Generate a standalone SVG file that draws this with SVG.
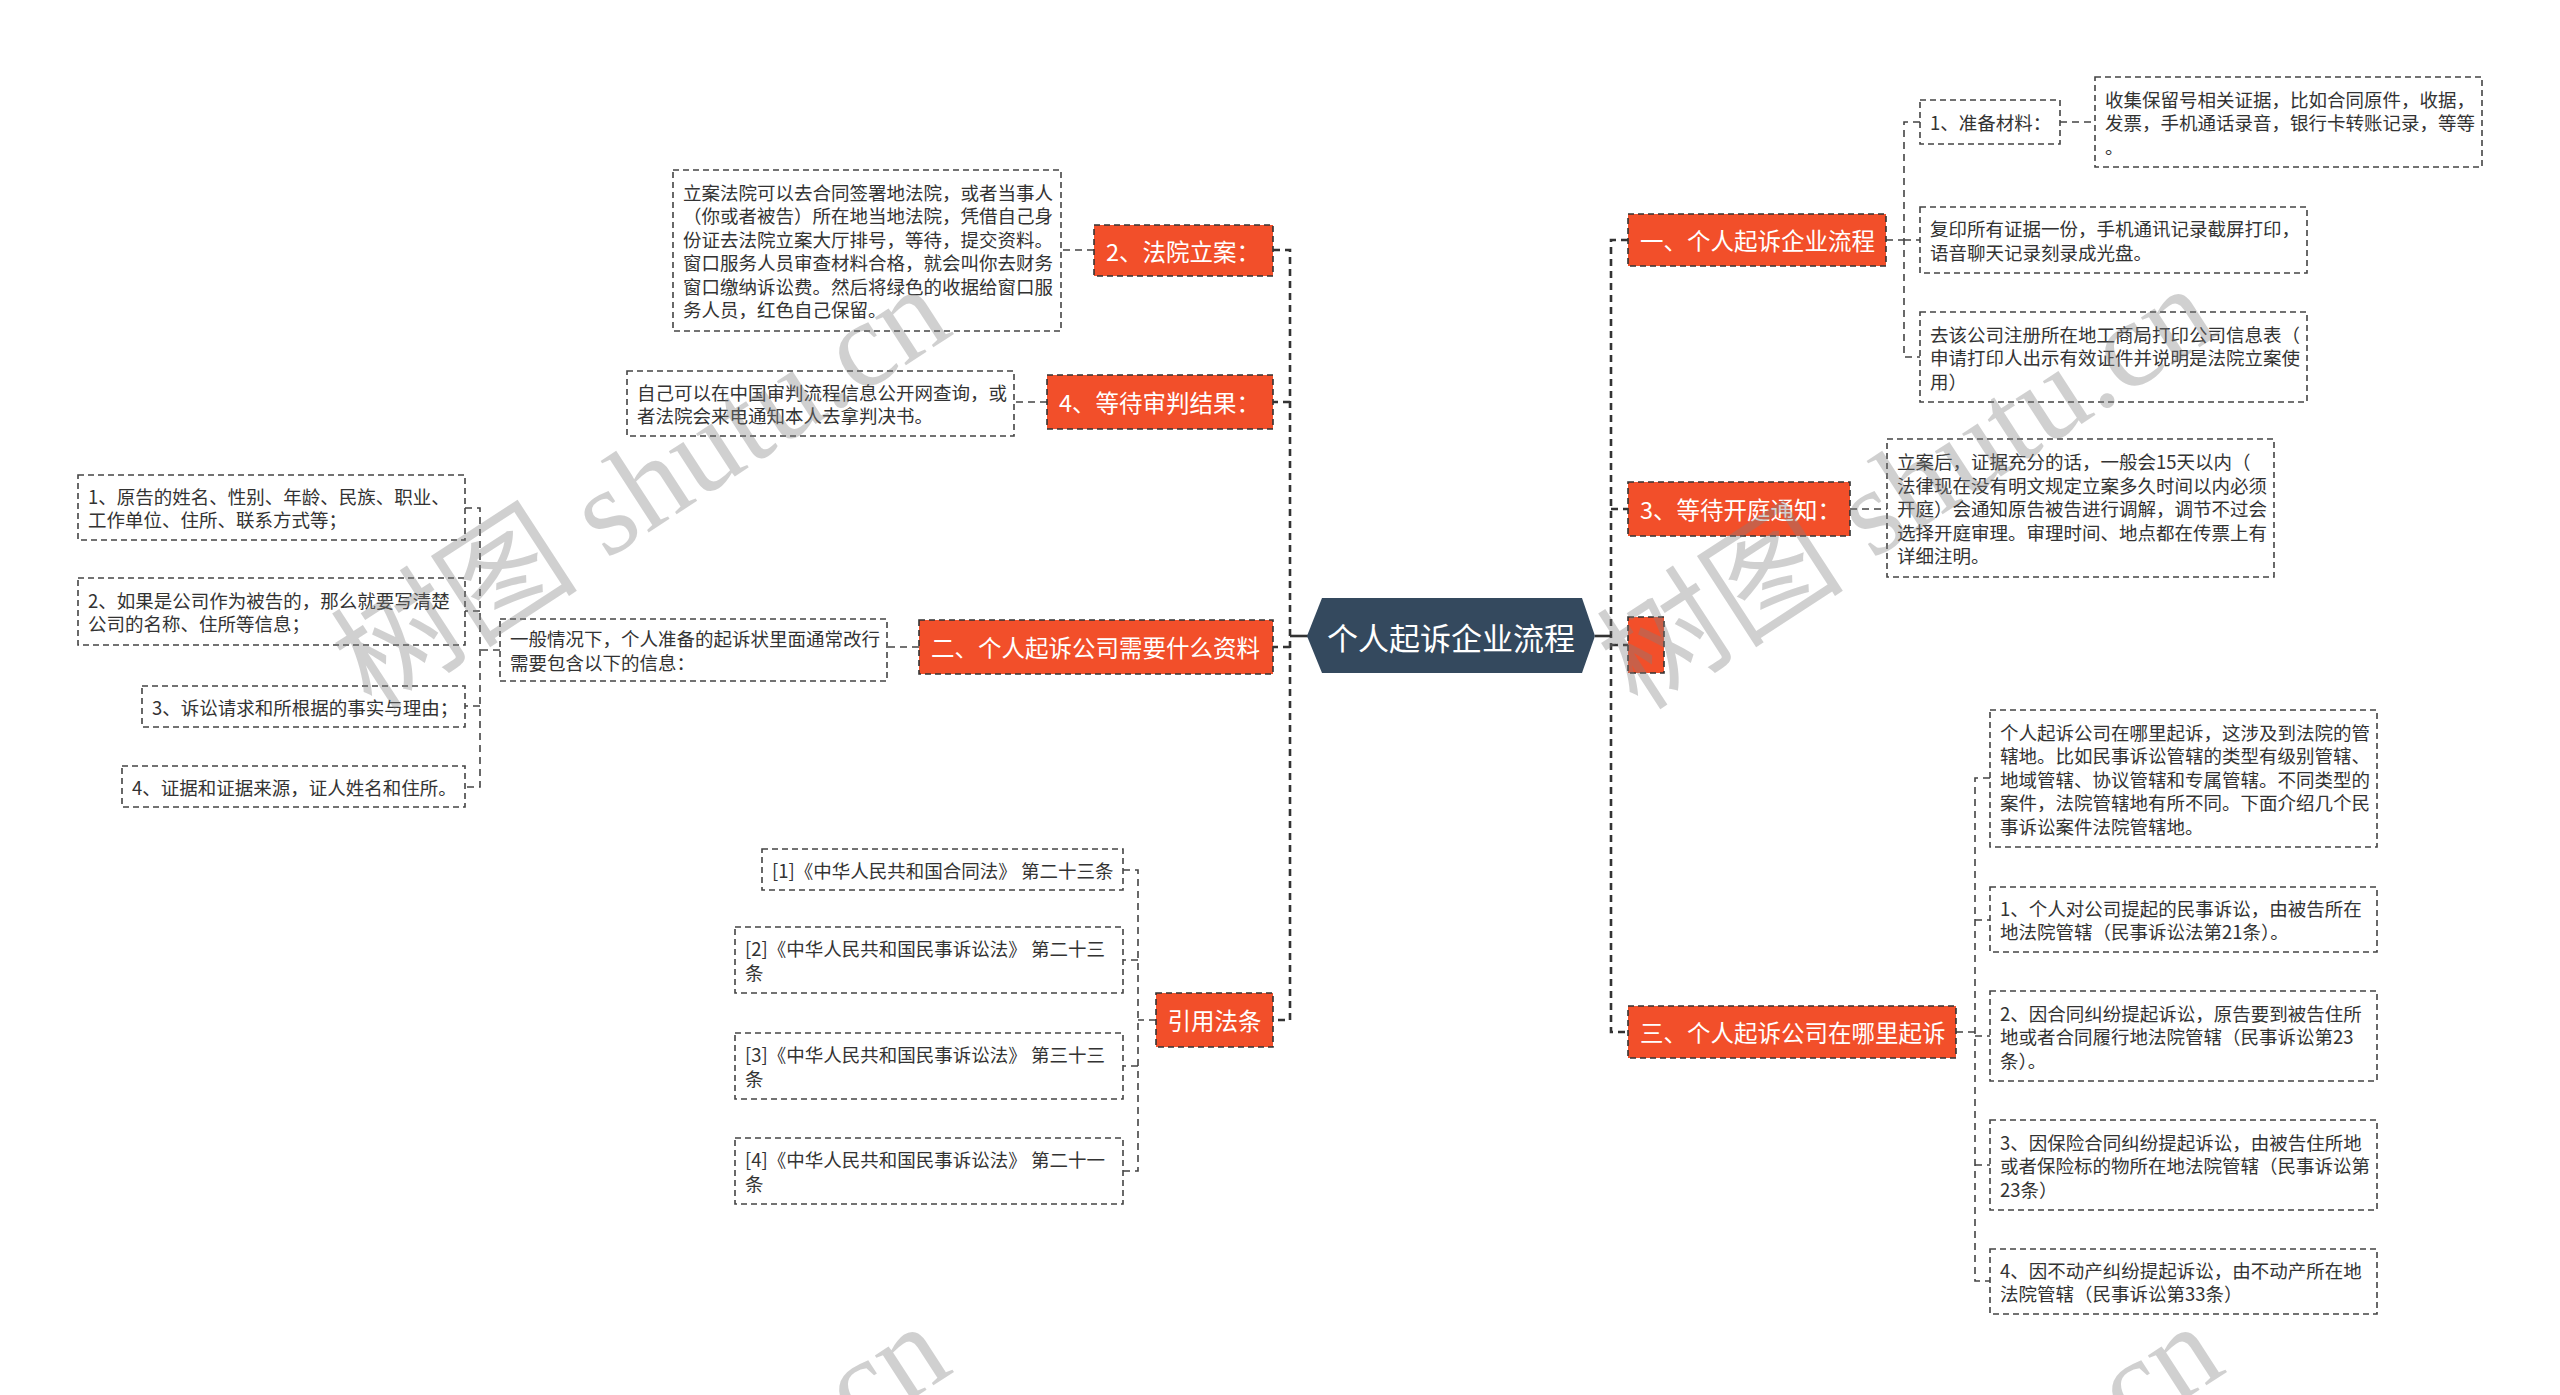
<svg xmlns="http://www.w3.org/2000/svg" width="2560" height="1395" viewBox="0 0 2560 1395">
<style>
.box{fill:#fff;stroke:#444;stroke-width:1.6;stroke-dasharray:6 4}
.red{fill:#F24F2A;stroke:#333;stroke-width:1.6;stroke-dasharray:6 4}
.t{font-family:"Noto Sans CJK SC","Microsoft YaHei",sans-serif;font-size:18.5px;fill:#333;dominant-baseline:central}
.rt{font-family:"Noto Sans CJK SC","Microsoft YaHei",sans-serif;font-size:23.5px;fill:#fff;dominant-baseline:central}
.trunk{fill:none;stroke:#333;stroke-width:2.6;stroke-dasharray:7 5}
.br{fill:none;stroke:#444;stroke-width:1.6;stroke-dasharray:7 5}
.solid{fill:none;stroke:#333;stroke-width:2.6}
.wm{font-family:"Liberation Serif","Noto Sans CJK SC",serif;font-size:124px;fill:#808080;opacity:0.36}
</style>
<rect width="2560" height="1395" fill="#fff"/>
<g id="connectors">
<path class="solid" d="M1309,636 H1290"/>
<path class="solid" d="M1595,636 H1611"/>
<path class="trunk" d="M1273,250 H1290 V1020 H1273 M1290,402 H1273 M1290,647 H1273"/>
<path class="trunk" d="M1628,240 H1611 V1032 H1628 M1611,509 H1628 M1611,645 H1628"/>
<path class="br" d="M1094,250 H1061"/>
<path class="br" d="M1047,402 H1014"/>
<path class="br" d="M919,647 H887"/>
<path class="br" d="M500,650 H480 M465,508 H480 V787 H465 M480,611 H465 M480,706 H465"/>
<path class="br" d="M1156,1020 H1138 M1123,870 H1138 V1171 H1123 M1138,960 H1123 M1138,1066 H1123"/>
<path class="br" d="M1886,240 H1904 M1920,122 H1904 V357 H1920 M1904,240 H1920"/>
<path class="br" d="M2060,122 H2095"/>
<path class="br" d="M1850,509 H1887"/>
<path class="br" d="M1956,1032 H1975 M1990,778 H1975 V1281 H1990 M1975,920 H1990 M1975,1036 H1990 M1975,1165 H1990"/>
</g>
<g id="root">
<polygon points="1307,636 1322,598 1582,598 1595,636 1582,673 1322,673" fill="#34495E"/>
<text x="1451" y="636" text-anchor="middle" font-family="Noto Sans CJK SC, sans-serif" font-size="31" fill="#fff" dominant-baseline="central">个人起诉企业流程</text>
</g>
<g id="n-fayuanlian">
<rect class="red" x="1094" y="225" width="179" height="51"/>
<text class="rt" x="1106" y="250.5">2、法院立案：</text>
</g>
<g id="n-fayuanlian-txt">
<rect class="box" x="673" y="170" width="388" height="161"/>
<text class="t" x="683" y="191.75"><tspan x="683">立案法院可以去合同签署地法院，或者当事人</tspan><tspan x="683" dy="23.5">（你或者被告）所在地当地法院，凭借自己身</tspan><tspan x="683" dy="23.5">份证去法院立案大厅排号，等待，提交资料。</tspan><tspan x="683" dy="23.5">窗口服务人员审查材料合格，就会叫你去财务</tspan><tspan x="683" dy="23.5">窗口缴纳诉讼费。然后将绿色的收据给窗口服</tspan><tspan x="683" dy="23.5">务人员，红色自己保留。</tspan></text>
</g>
<g id="n-shenpan">
<rect class="red" x="1047" y="375" width="226" height="54"/>
<text class="rt" x="1059" y="402">4、等待审判结果：</text>
</g>
<g id="n-shenpan-txt">
<rect class="box" x="627" y="371" width="387" height="65"/>
<text class="t" x="637" y="391.75"><tspan x="637">自己可以在中国审判流程信息公开网查询，或</tspan><tspan x="637" dy="23.5">者法院会来电通知本人去拿判决书。</tspan></text>
</g>
<g id="n-ziliao">
<rect class="red" x="919" y="620" width="354" height="54"/>
<text class="rt" x="931" y="647">二、个人起诉公司需要什么资料</text>
</g>
<g id="n-ziliao-txt">
<rect class="box" x="500" y="619" width="387" height="62"/>
<text class="t" x="510" y="638.25"><tspan x="510">一般情况下，个人准备的起诉状里面通常改行</tspan><tspan x="510" dy="23.5">需要包含以下的信息：</tspan></text>
</g>
<g id="n-z1">
<rect class="box" x="78" y="475" width="387" height="65"/>
<text class="t" x="88" y="495.75"><tspan x="88">1、原告的姓名、性别、年龄、民族、职业、</tspan><tspan x="88" dy="23.5">工作单位、住所、联系方式等；</tspan></text>
</g>
<g id="n-z2">
<rect class="box" x="78" y="578" width="387" height="67"/>
<text class="t" x="88" y="599.75"><tspan x="88">2、如果是公司作为被告的，那么就要写清楚</tspan><tspan x="88" dy="23.5">公司的名称、住所等信息；</tspan></text>
</g>
<g id="n-z3">
<rect class="box" x="142" y="686" width="323" height="41"/>
<text class="t" x="152" y="706.5">3、诉讼请求和所根据的事实与理由；</text>
</g>
<g id="n-z4">
<rect class="box" x="122" y="766" width="343" height="41"/>
<text class="t" x="132" y="786.5">4、证据和证据来源，证人姓名和住所。</text>
</g>
<g id="n-fatiao">
<rect class="red" x="1156" y="993" width="117" height="54"/>
<text class="rt" x="1214.5" y="1020" text-anchor="middle">引用法条</text>
</g>
<g id="n-f1">
<rect class="box" x="762" y="849" width="361" height="41"/>
<text class="t" x="772" y="869.5">[1]《中华人民共和国合同法》 第二十三条</text>
</g>
<g id="n-f2">
<rect class="box" x="735" y="927" width="388" height="66"/>
<text class="t" x="745" y="948.25"><tspan x="745">[2]《中华人民共和国民事诉讼法》 第二十三</tspan><tspan x="745" dy="23.5">条</tspan></text>
</g>
<g id="n-f3">
<rect class="box" x="735" y="1033" width="388" height="66"/>
<text class="t" x="745" y="1054.25"><tspan x="745">[3]《中华人民共和国民事诉讼法》 第三十三</tspan><tspan x="745" dy="23.5">条</tspan></text>
</g>
<g id="n-f4">
<rect class="box" x="735" y="1138" width="388" height="66"/>
<text class="t" x="745" y="1159.25"><tspan x="745">[4]《中华人民共和国民事诉讼法》 第二十一</tspan><tspan x="745" dy="23.5">条</tspan></text>
</g>
<g id="n-liucheng">
<rect class="red" x="1628" y="214" width="258" height="52"/>
<text class="rt" x="1640" y="240">一、个人起诉企业流程</text>
</g>
<g id="n-l1">
<rect class="box" x="1920" y="100" width="140" height="44"/>
<text class="t" x="1930" y="122">1、准备材料：</text>
</g>
<g id="n-l1c">
<rect class="box" x="2095" y="77" width="387" height="90"/>
<text class="t" x="2105" y="98.5"><tspan x="2105">收集保留号相关证据，比如合同原件，收据，</tspan><tspan x="2105" dy="23.5">发票，手机通话录音，银行卡转账记录，等等</tspan><tspan x="2105" dy="23.5">。</tspan></text>
</g>
<g id="n-l2">
<rect class="box" x="1920" y="207" width="387" height="66"/>
<text class="t" x="1930" y="228.25"><tspan x="1930">复印所有证据一份，手机通讯记录截屏打印，</tspan><tspan x="1930" dy="23.5">语音聊天记录刻录成光盘。</tspan></text>
</g>
<g id="n-l3">
<rect class="box" x="1920" y="312" width="387" height="90"/>
<text class="t" x="1930" y="333.5"><tspan x="1930">去该公司注册所在地工商局打印公司信息表（</tspan><tspan x="1930" dy="23.5">申请打印人出示有效证件并说明是法院立案使</tspan><tspan x="1930" dy="23.5">用）</tspan></text>
</g>
<g id="n-kaiting">
<rect class="red" x="1628" y="482" width="222" height="54"/>
<text class="rt" x="1640" y="509">3、等待开庭通知：</text>
</g>
<g id="n-kaiting-txt">
<rect class="box" x="1887" y="439" width="387" height="138"/>
<text class="t" x="1897" y="461"><tspan x="1897">立案后，证据充分的话，一般会15天以内（</tspan><tspan x="1897" dy="23.5">法律现在没有明文规定立案多久时间以内必须</tspan><tspan x="1897" dy="23.5">开庭）会通知原告被告进行调解，调节不过会</tspan><tspan x="1897" dy="23.5">选择开庭审理。审理时间、地点都在传票上有</tspan><tspan x="1897" dy="23.5">详细注明。</tspan></text>
</g>
<g id="n-empty">
<rect class="red" x="1628" y="617" width="36" height="56"/>
</g>
<g id="n-nali">
<rect class="red" x="1628" y="1006" width="328" height="52"/>
<text class="rt" x="1640" y="1032">三、个人起诉公司在哪里起诉</text>
</g>
<g id="n-h1">
<rect class="box" x="1990" y="710" width="387" height="137"/>
<text class="t" x="2000" y="731.5"><tspan x="2000">个人起诉公司在哪里起诉，这涉及到法院的管</tspan><tspan x="2000" dy="23.5">辖地。比如民事诉讼管辖的类型有级别管辖、</tspan><tspan x="2000" dy="23.5">地域管辖、协议管辖和专属管辖。不同类型的</tspan><tspan x="2000" dy="23.5">案件，法院管辖地有所不同。下面介绍几个民</tspan><tspan x="2000" dy="23.5">事诉讼案件法院管辖地。</tspan></text>
</g>
<g id="n-h2">
<rect class="box" x="1990" y="887" width="387" height="65"/>
<text class="t" x="2000" y="907.75"><tspan x="2000">1、个人对公司提起的民事诉讼，由被告所在</tspan><tspan x="2000" dy="23.5">地法院管辖（民事诉讼法第21条）。</tspan></text>
</g>
<g id="n-h3">
<rect class="box" x="1990" y="991" width="387" height="90"/>
<text class="t" x="2000" y="1012.5"><tspan x="2000">2、因合同纠纷提起诉讼，原告要到被告住所</tspan><tspan x="2000" dy="23.5">地或者合同履行地法院管辖（民事诉讼第23</tspan><tspan x="2000" dy="23.5">条）。</tspan></text>
</g>
<g id="n-h4">
<rect class="box" x="1990" y="1120" width="387" height="90"/>
<text class="t" x="2000" y="1141.5"><tspan x="2000">3、因保险合同纠纷提起诉讼，由被告住所地</tspan><tspan x="2000" dy="23.5">或者保险标的物所在地法院管辖（民事诉讼第</tspan><tspan x="2000" dy="23.5">23条）</tspan></text>
</g>
<g id="n-h5">
<rect class="box" x="1990" y="1249" width="387" height="65"/>
<text class="t" x="2000" y="1269.75"><tspan x="2000">4、因不动产纠纷提起诉讼，由不动产所在地</tspan><tspan x="2000" dy="23.5">法院管辖（民事诉讼第33条）</tspan></text>
</g>
<g id="watermark">
<text class="wm" transform="translate(372,712) rotate(-33)">树图 shutu.cn</text>
<text class="wm" transform="translate(1638,712) rotate(-33)">树图 shutu.cn</text>
<text class="wm" transform="translate(372,1750) rotate(-33)">树图 shutu.cn</text>
<text class="wm" transform="translate(1645,1750) rotate(-33)">树图 shutu.cn</text>
</g>
</svg>
